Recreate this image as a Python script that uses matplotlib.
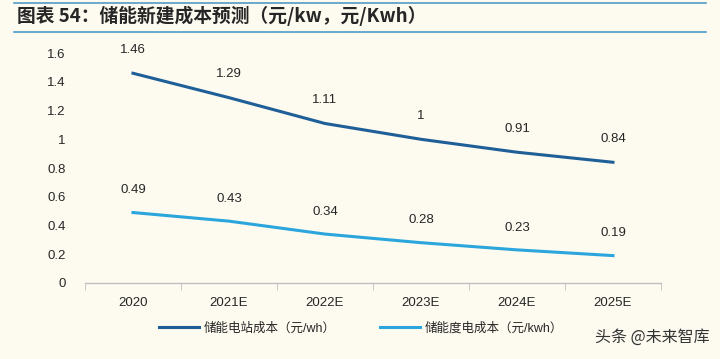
import matplotlib.pyplot as plt
import numpy as np

plt.rcParams['font.family'] = ['Liberation Sans', 'Noto Sans CJK SC', 'DejaVu Sans']

years = ["2020", "2021E", "2022E", "2023E", "2024E", "2025E"]
station_cost = [1.46, 1.29, 1.11, 1.0, 0.91, 0.84]
kwh_cost = [0.49, 0.43, 0.34, 0.28, 0.23, 0.19]
station_labels = ["1.46", "1.29", "1.11", "1", "0.91", "0.84"]
kwh_labels = ["0.49", "0.43", "0.34", "0.28", "0.23", "0.19"]

BG = "#fdfaf0"
C_DARK = "#1f5f98"
C_LIGHT = "#2ba6dc"
C_RULE = "#4f9cc8"
C_TEXT = "#262626"

fig = plt.figure(figsize=(7.2, 3.59), dpi=100, facecolor=BG)
ax = fig.add_axes([0.118, 0.212, 0.800, 0.640])
ax.set_facecolor(BG)

x = np.arange(len(years))
ax.plot(x, station_cost, color=C_DARK, linewidth=2.2, label="储能电站成本（元/wh）")
ax.plot(x, kwh_cost, color=C_LIGHT, linewidth=2.2, label="储能度电成本（元/kwh）")

for xi, v, s in zip(x, station_cost, station_labels):
    ax.annotate(s, (xi, v), xytext=(0, 17), textcoords="offset points",
                ha="center", va="center", fontsize=9.5, color=C_TEXT)
for xi, v, s in zip(x, kwh_cost, kwh_labels):
    ax.annotate(s, (xi, v), xytext=(0, 16), textcoords="offset points",
                ha="center", va="center", fontsize=9.5, color=C_TEXT)

ax.set_xlim(-0.5, len(years) - 0.5)
ax.set_ylim(0, 1.6)
ax.set_yticks(np.arange(0, 1.61, 0.2))
ax.set_yticklabels(["0", "0.2", "0.4", "0.6", "0.8", "1", "1.2", "1.4", "1.6"])
ax.set_xticks(x)
ax.set_xticklabels(years)
ax.set_xticks(np.arange(-0.5, len(years), 1), minor=True)
ax.tick_params(axis="x", which="major", length=0, pad=10, labelsize=9.5, labelcolor=C_TEXT)
ax.tick_params(axis="x", which="minor", length=5, color="#bfbfbf", direction="out")
ax.tick_params(axis="y", length=0, pad=14, labelsize=9.5, labelcolor=C_TEXT)

for side in ("top", "right", "left"):
    ax.spines[side].set_visible(False)
ax.spines["bottom"].set_color("#bfbfbf")
ax.spines["bottom"].set_linewidth(1.0)

leg = fig.legend(loc="center left", bbox_to_anchor=(0.205, 0.085), ncol=2,
                 frameon=False, fontsize=9, handlelength=3.2, columnspacing=3.5,
                 handletextpad=0.4)
for t in leg.get_texts():
    t.set_color(C_TEXT)

# title and rules
fig.add_artist(plt.Line2D([0.02, 0.98], [0.992, 0.992], color=C_RULE, linewidth=1.2))
fig.add_artist(plt.Line2D([0.02, 0.98], [0.91, 0.91], color=C_RULE, linewidth=1.2))
fig.text(0.024, 0.955, "图表 54：储能新建成本预测（元/kw，元/Kwh）", fontsize=13.5,
         fontweight="bold", style="italic", color=C_TEXT, va="center",
         family=["Noto Sans CJK SC", "DejaVu Sans"])

# watermark
fig.text(0.985, 0.06, "头条 @未来智库", fontsize=11.5, color="#333333", ha="right",
         va="center", family=["Noto Sans CJK SC", "DejaVu Sans"])

fig.savefig("out.png", dpi=100, facecolor=BG)
